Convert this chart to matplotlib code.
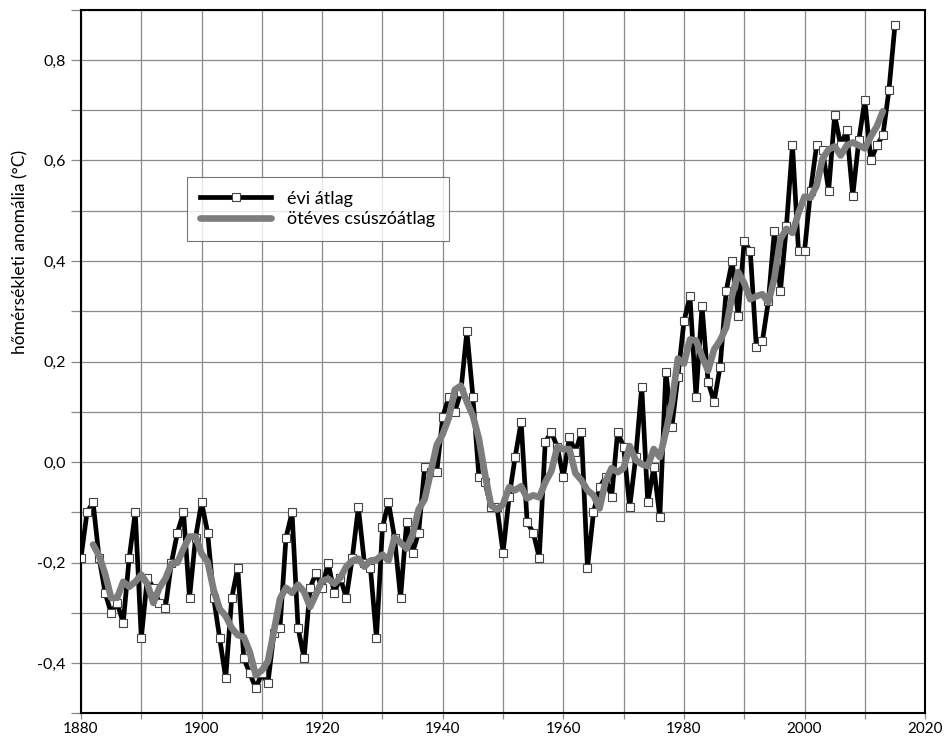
import matplotlib
matplotlib.use('Agg')
import matplotlib.pyplot as plt
from matplotlib.ticker import MultipleLocator
import numpy as np
import pandas as pd

# Éves globális hőmérsékleti anomália (°C), 1880-2015
years = list(range(1880, 2016))
anomaly = [
    -0.19, -0.10, -0.08, -0.19, -0.26, -0.30, -0.28, -0.32, -0.19, -0.10,  # 1880-1889
    -0.35, -0.23, -0.25, -0.28, -0.29, -0.20, -0.14, -0.10, -0.27, -0.15,  # 1890-1899
    -0.08, -0.14, -0.27, -0.35, -0.43, -0.27, -0.21, -0.39, -0.42, -0.45,  # 1900-1909
    -0.42, -0.44, -0.34, -0.33, -0.15, -0.10, -0.33, -0.39, -0.25, -0.22,  # 1910-1919
    -0.25, -0.20, -0.26, -0.23, -0.27, -0.19, -0.09, -0.20, -0.21, -0.35,  # 1920-1929
    -0.13, -0.08, -0.15, -0.27, -0.12, -0.18, -0.14, -0.01, -0.02, -0.02,  # 1930-1939
    0.09, 0.13, 0.10, 0.14, 0.26, 0.13, -0.03, -0.04, -0.09, -0.09,        # 1940-1949
    -0.18, -0.07, 0.01, 0.08, -0.12, -0.14, -0.19, 0.04, 0.06, 0.03,       # 1950-1959
    -0.03, 0.05, 0.02, 0.06, -0.21, -0.10, -0.05, -0.03, -0.07, 0.06,      # 1960-1969
    0.03, -0.09, 0.01, 0.15, -0.08, -0.01, -0.11, 0.18, 0.07, 0.17,        # 1970-1979
    0.28, 0.33, 0.13, 0.31, 0.16, 0.12, 0.19, 0.34, 0.40, 0.29,            # 1980-1989
    0.44, 0.42, 0.23, 0.24, 0.32, 0.46, 0.34, 0.47, 0.63, 0.42,            # 1990-1999
    0.42, 0.54, 0.63, 0.62, 0.54, 0.69, 0.63, 0.66, 0.53, 0.64,            # 2000-2009
    0.72, 0.60, 0.63, 0.65, 0.74, 0.87,                                    # 2010-2015
]

year_ticks = list(range(1880, 2021, 20))
ytick_values = [-0.4, -0.2, 0.0, 0.2, 0.4, 0.6, 0.8]
ytick_labels = ['-0,4', '-0,2', '0,0', '0,2', '0,4', '0,6', '0,8']

df = pd.DataFrame({'ev': years, 'anomalia': anomaly})
# ötéves, középre igazított mozgóátlag
df['atlag5'] = df['anomalia'].rolling(5, center=True).mean()

plt.rcParams['font.family'] = ['Lato', 'DejaVu Sans']

fig = plt.figure(figsize=(9.44, 7.44), dpi=100)
ax = fig.add_axes([0.0858, 0.041, 0.8942, 0.946])

ax.plot(df['ev'], df['anomalia'], '-s', color='black', linewidth=3.4,
        markersize=6.2, markerfacecolor='white', markeredgecolor='#444444',
        markeredgewidth=0.8, label='évi átlag', zorder=3)
ax.plot(df['ev'], df['atlag5'], '-', color='#7d7d7d', linewidth=4.8,
        solid_capstyle='round', label='ötéves csúszóátlag', zorder=4)

ax.set_xlim(1880, 2020)
ax.set_ylim(-0.5, 0.9)
ax.set_xticks(year_ticks)
ax.xaxis.set_minor_locator(MultipleLocator(10))
ax.set_yticks(ytick_values)
ax.set_yticklabels(ytick_labels)
ax.yaxis.set_minor_locator(MultipleLocator(0.1))

ax.grid(True, which='both', color='#8a8a8a', linewidth=0.9, zorder=0)
ax.set_axisbelow(True)

ax.tick_params(axis='x', which='both', length=4, width=0.9, color='#8a8a8a',
               labelsize=11, pad=2)
ax.tick_params(axis='y', which='both', length=7, width=0.9, color='#8a8a8a',
               labelsize=11.5, pad=4)
for side in ['left', 'top', 'right', 'bottom']:
    ax.spines[side].set_color('black')
    ax.spines[side].set_linewidth(1.5)

fig.text(0.022, 0.662, 'hőmérsékleti anomália (°C)', rotation=90,
         ha='center', va='center', fontsize=12.5)

leg = ax.legend(loc='upper left', bbox_to_anchor=(0.198, 0.762),
                bbox_transform=fig.transFigure, fontsize=13, frameon=True,
                fancybox=False, edgecolor='#555555', handlelength=3.9,
                borderpad=0.75, labelspacing=0.25, handletextpad=0.9,
                borderaxespad=0)
leg.get_frame().set_linewidth(0.8)

plt.savefig('out.png', dpi=100)
plt.close()
